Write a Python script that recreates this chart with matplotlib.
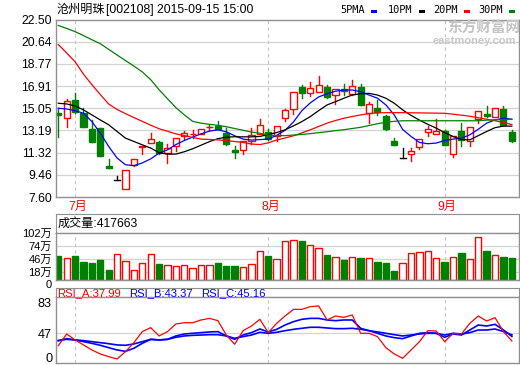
import matplotlib
matplotlib.use('Agg')
import matplotlib.pyplot as plt
from matplotlib.patches import Rectangle

plt.rcParams['font.family'] = ['Liberation Sans', 'Noto Sans CJK SC', 'DejaVu Sans']

# ---------------- data ----------------
stock_name = "沧州明珠"
stock_info = "[002108] 2015-09-15 15:00"
legend_names = ["5PMA", "10PM", "20PM", "30PM"]
month_labels = ["7月", "8月", "9月"]
month_index = [3, 26, 47]

opens = [14.62, 14.21, 15.74, 14.63, 13.29, 13.43, 10.23, 9.06, 8.28, 10.29,
         11.78, 12.13, 12.18, 11.29, 11.90, 12.74, 12.88, 12.88, 13.44, 13.57,
         12.96, 11.51, 11.57, 12.26, 12.88, 13.07, 12.74, 14.21, 14.97, 16.85,
         16.30, 16.44, 16.85, 16.16, 16.64, 16.24, 16.85, 14.68, 15.05, 14.41,
         12.26, 10.87, 11.23, 11.79, 13.07, 12.88, 13.13, 11.21, 13.13, 12.32,
         14.13, 14.55, 14.35, 14.97, 13.05]
highs = [15.05, 15.80, 16.35, 15.05, 14.07, 13.43, 10.81, 9.40, 9.90, 10.80,
         11.86, 13.00, 12.32, 12.04, 12.59, 13.15, 13.24, 13.35, 13.63, 13.99,
         13.38, 11.90, 12.34, 13.43, 14.13, 13.30, 13.60, 14.95, 16.45, 16.99,
         17.27, 17.77, 17.00, 16.70, 17.05, 17.41, 17.10, 15.60, 15.74, 14.50,
         12.54, 11.70, 11.71, 12.46, 13.57, 14.13, 13.20, 12.68, 13.80, 13.51,
         14.85, 15.24, 15.10, 15.24, 13.24]
lows = [12.63, 13.46, 14.63, 13.45, 12.18, 11.01, 10.00, 9.06, 8.28, 10.20,
        11.20, 12.10, 11.25, 10.46, 11.42, 12.49, 12.54, 12.85, 13.24, 13.30,
        12.00, 10.87, 11.23, 12.07, 12.85, 12.40, 12.26, 14.01, 14.57, 15.94,
        16.10, 16.40, 15.90, 15.41, 16.16, 16.20, 15.30, 13.80, 14.49, 13.25,
        11.98, 10.87, 10.59, 11.65, 12.68, 12.85, 11.96, 10.95, 11.84, 11.84,
        13.80, 14.35, 14.28, 13.66, 12.21]
closes = [14.50, 15.68, 14.72, 13.51, 12.23, 11.01, 10.00, 9.06, 9.90, 10.79,
          11.84, 12.46, 11.29, 11.72, 12.59, 12.96, 12.92, 13.29, 13.48, 13.35,
          12.07, 11.34, 12.26, 12.82, 13.66, 12.46, 13.57, 14.91, 16.39, 16.35,
          16.72, 16.99, 16.02, 16.64, 16.47, 16.91, 15.33, 15.41, 14.77, 13.29,
          11.98, 10.87, 11.42, 12.46, 13.29, 13.18, 11.96, 12.68, 12.40, 13.51,
          14.85, 14.41, 15.05, 13.66, 12.34]

ma5 = [15.05, 14.99, 14.85, 14.63, 13.93, 12.96, 11.84, 10.87, 10.31, 10.23,
       10.46, 10.80, 11.28, 11.56, 12.00, 12.34, 12.63, 12.90, 13.13, 13.24,
       13.07, 12.74, 12.46, 12.38, 12.42, 12.46, 12.78, 13.20, 13.90, 14.85,
       15.50, 16.00, 16.27, 16.48, 16.58, 16.58, 16.44, 16.16, 15.89, 15.33,
       14.49, 13.27, 12.68, 12.18, 12.07, 12.13, 12.34, 12.46, 12.54, 12.82,
       13.29, 13.80, 14.07, 14.21, 14.13]
ma10 = [15.47, 15.41, 15.24, 14.91, 14.49, 14.07, 13.66, 13.10, 12.54, 12.26,
        11.98, 11.71, 11.32, 11.20, 11.20, 11.40, 11.65, 11.95, 12.25, 12.50,
        12.62, 12.66, 12.65, 12.65, 12.68, 12.85, 13.01, 13.24, 13.57, 13.93,
        14.35, 14.85, 15.33, 15.60, 15.89, 16.16, 16.27, 16.30, 16.16, 15.89,
        15.47, 14.91, 14.45, 14.05, 13.70, 13.38, 13.00, 12.68, 12.42, 12.40,
        12.75, 13.10, 13.42, 13.55, 13.55]
ma20 = [20.40, 19.69, 18.95, 17.91, 17.03, 16.20, 15.40, 14.95, 14.60, 14.27,
        13.95, 13.63, 13.33, 13.12, 12.90, 12.75, 12.60, 12.46, 12.43, 12.40,
        12.33, 12.26, 12.18, 12.05, 12.00, 12.15, 12.38, 12.55, 12.74, 12.98,
        13.24, 13.52, 13.80, 14.02, 14.21, 14.36, 14.49, 14.60, 14.66, 14.68,
        14.68, 14.68, 14.67, 14.66, 14.65, 14.64, 14.63, 14.55, 14.47, 14.38,
        14.25, 14.13, 14.00, 13.85, 13.68]
ma30 = [22.00, 21.75, 21.48, 21.15, 20.80, 20.47, 19.99, 19.52, 19.05, 18.59,
        18.10, 17.45, 16.60, 15.85, 15.10, 14.50, 13.95, 13.80, 13.70, 13.62,
        13.50, 13.35, 13.20, 13.05, 12.95, 12.80, 12.75, 12.75, 12.80, 12.85,
        12.92, 13.00, 13.08, 13.17, 13.25, 13.35, 13.45, 13.60, 13.75, 13.88,
        13.95, 14.00, 14.00, 14.00, 14.00, 14.00, 14.00, 14.00, 14.00, 14.00,
        14.00, 14.05, 14.08, 14.10, 14.12]

volume_wan = [52.0, 47.6, 52.0, 39.0, 36.8, 43.3, 21.6, 55.6, 41.1, 20.9,
              36.1, 55.6, 34.6, 31.7, 29.6, 31.7, 25.3, 31.7, 31.7, 36.8,
              30.3, 30.3, 28.1, 33.9, 62.8, 52.0, 45.5, 84.4, 86.6, 84.4,
              75.8, 69.3, 54.1, 49.8, 43.3, 49.8, 47.6, 47.6, 39.0, 36.8,
              19.5, 36.8, 58.4, 60.6, 62.8, 47.6, 39.0, 49.8, 58.4, 45.5,
              93.0, 62.8, 54.1, 49.8, 47.6]
volume_last = "417663"

rsi_a = [32.5, 46.2, 39.2, 33.3, 27.4, 22.7, 19.5, 16.8, 25.4, 36.0,
         49.0, 53.7, 43.9, 49.0, 58.0, 59.5, 59.5, 62.7, 64.6, 61.9,
         45.0, 34.1, 50.1, 55.6, 63.5, 47.8, 58.8, 67.4, 75.2, 75.2,
         78.4, 79.2, 62.7, 67.4, 65.8, 68.6, 47.0, 47.0, 43.1, 30.1,
         22.7, 17.6, 27.4, 37.2, 50.1, 49.7, 37.2, 47.0, 46.2, 58.8,
         67.4, 61.5, 65.4, 49.0, 37.99]
rsi_b = [38.4, 40.7, 39.2, 37.2, 35.2, 32.9, 30.1, 27.4, 25.8, 29.4,
         35.2, 39.9, 39.2, 39.9, 43.9, 46.2, 47.0, 47.8, 48.6, 49.0,
         43.9, 39.9, 45.0, 47.8, 52.1, 48.6, 51.7, 56.8, 60.7, 63.5,
         64.6, 64.6, 62.7, 61.9, 62.7, 62.7, 52.9, 50.1, 47.0, 43.9,
         41.9, 40.7, 43.9, 47.0, 47.8, 47.0, 42.3, 46.2, 45.0, 50.9,
         56.8, 55.6, 57.6, 50.9, 43.37]
rsi_c = [38.4, 39.9, 39.2, 38.4, 37.2, 36.0, 34.8, 33.3, 32.9, 34.5,
         37.2, 39.9, 39.2, 39.9, 42.3, 43.9, 44.6, 45.0, 45.4, 45.4,
         43.9, 41.1, 43.1, 45.0, 48.2, 47.0, 48.2, 50.1, 51.7, 52.9,
         54.1, 54.1, 53.3, 52.5, 52.5, 52.9, 51.7, 50.1, 48.6, 47.0,
         45.4, 43.9, 45.0, 46.2, 47.0, 47.0, 45.0, 47.0, 46.2, 47.8,
         50.9, 50.9, 52.1, 49.0, 45.16]

price_ticks = [7.60, 9.46, 11.32, 13.19, 15.05, 16.91, 18.77, 20.64, 22.50]
vol_ticks = [0, 18, 46, 74, 102]
vol_tick_labels = ["0", "18万", "46万", "74万", "102万"]
rsi_ticks = [47, 83]
rsi_tick_labels = ["47", "83"]
rsi_bottom_label = "0"

# ---------------- style ----------------
W, H = 520, 365
RED = '#ff0000'
GREEN = '#008000'
BLUE = '#0000ff'
BORDER = '#909090'
GRID = '#d4d4d4'
DASH = '#c4c4c4'

fig = plt.figure(figsize=(W / 100, H / 100), dpi=100)
fig.patch.set_facecolor('white')


def rect(l, t, r, b):
    return [l / W, 1 - b / H, (r - l) / W, (b - t) / H]


def fx(x):
    return x / W


def fy(y):
    return 1 - y / H


n = len(closes)
xs = list(range(1, n + 1))
XL = (0.726, 55.85)


def style_axes(ax):
    ax.set_xlim(*XL)
    ax.set_xticks([])
    for s in ax.spines.values():
        s.set_color(BORDER)
        s.set_linewidth(1)
    ax.tick_params(axis='y', length=0, pad=3, colors='black')


def vdash(ax, y0, y1):
    for m in month_index:
        ax.plot([m, m], [y0, y1], color=DASH, lw=0.8, ls=(0, (3, 3)), zorder=1)


# ---------------- main price panel ----------------
ax = fig.add_axes(rect(56, 19.5, 519, 197))
style_axes(ax)
ax.set_ylim(7.60, 22.50)
ax.set_yticks(price_ticks)
ax.set_yticklabels([f"{t:.2f}" for t in price_ticks], fontsize=8.8)
for t in price_ticks[1:-1]:
    ax.axhline(t, color=GRID, lw=0.9, zorder=0)
vdash(ax, 7.6, 22.5)

bw = 0.72
for x, o, h, l, c in zip(xs, opens, highs, lows, closes):
    lo, hi = min(o, c), max(o, c)
    if c > o:
        col = RED
        ax.plot([x, x], [l, lo], color=col, lw=1, zorder=2)
        ax.plot([x, x], [hi, h], color=col, lw=1, zorder=2)
        ax.add_patch(Rectangle((x - bw / 2, lo), bw, max(hi - lo, 0.02),
                               facecolor='white', edgecolor=col, lw=1, zorder=2))
    elif c < o:
        col = GREEN
        ax.plot([x, x], [l, h], color=col, lw=1, zorder=2)
        ax.add_patch(Rectangle((x - bw / 2, lo), bw, max(hi - lo, 0.02),
                               facecolor=col, edgecolor=col, lw=1, zorder=2))
    else:
        ax.plot([x, x], [l, h], color='black', lw=1, zorder=2)
        ax.plot([x - bw / 2, x + bw / 2], [o, o], color='black', lw=1, zorder=2)

ax.plot(xs, ma5, color=BLUE, lw=0.9, zorder=3)
ax.plot(xs, ma10, color='black', lw=0.9, zorder=3)
ax.plot(xs, ma20, color=RED, lw=0.9, zorder=3)
ax.plot(xs, ma30, color=GREEN, lw=0.9, zorder=3)

# watermark
fig.text(fx(447), fy(29), "东方财富网", color='#c4c4c4', fontsize=10.5,
         fontweight='bold', va='center', ha='left', zorder=0)
fig.text(fx(433), fy(40.5), "eastmoney.com", color='#c8c8c8', fontsize=8,
         fontweight='bold', va='center', ha='left', zorder=0)

# title
fig.text(fx(57), fy(10), stock_name, fontsize=8.7, va='center', ha='left')
fig.text(fx(106), fy(10), stock_info, fontsize=8.7, va='center', ha='left')

# legend
leg_x = [340, 387.7, 432.7, 478]
leg_colors = [BLUE, 'black', RED, GREEN]
for name, lx, lc in zip(legend_names, leg_x, leg_colors):
    fig.text(fx(lx), fy(10), name, fontsize=7.4, family='DejaVu Sans Mono',
             va='center', ha='left')
    fig.patches.append(Rectangle((fx(lx + 31), fy(12.8)), 6 / W, 2.8 / H,
                                 transform=fig.transFigure, facecolor=lc,
                                 edgecolor='none'))

# month labels
for lab, m in zip(month_labels, month_index):
    px = 58.3 + (m - 1) * 8.4 + 2.5
    fig.text(fx(px), fy(207), lab, color=RED, fontsize=8.7, ha='center', va='center')

# ---------------- volume panel ----------------
axvt = fig.add_axes(rect(56, 214, 519, 232.7))
axvt.set_xticks([]); axvt.set_yticks([])
for s in axvt.spines.values():
    s.set_color(BORDER)
axvt.text(0.004, 0.5, "成交量:" + volume_last, transform=axvt.transAxes,
          fontsize=8.7, va='center', ha='left')

axv = fig.add_axes(rect(56, 232.7, 519, 280))
style_axes(axv)
axv.set_ylim(0, 102)
axv.set_yticks(vol_ticks)
axv.set_yticklabels(vol_tick_labels, fontsize=8.0)
axv.tick_params(axis='y', pad=3)
for t in vol_ticks[1:-1]:
    axv.axhline(t, color=GRID, lw=0.9, zorder=0)
vdash(axv, 0, 102)
# nudge "0" slightly down so it does not touch "18万"
axv.get_yticklabels()[0].set_va('top')
vw = 0.76
for x, o, c, v in zip(xs, opens, closes, volume_wan):
    if c >= o:
        axv.add_patch(Rectangle((x - vw / 2, 0), vw, v, facecolor='white',
                                edgecolor=RED, lw=1, zorder=2))
    else:
        axv.add_patch(Rectangle((x - vw / 2, 0), vw, v, facecolor=GREEN,
                                edgecolor=GREEN, lw=1, zorder=2))

# ---------------- RSI panel ----------------
axrt = fig.add_axes(rect(56, 288, 519, 297.3))
axrt.set_xticks([]); axrt.set_yticks([])
for s in axrt.spines.values():
    s.set_color(BORDER)
rsi_titles = [("RSI_A:%.2f" % rsi_a[-1], RED, 57),
              ("RSI_B:%.2f" % rsi_b[-1], BLUE, 129),
              ("RSI_C:%.2f" % rsi_c[-1], BLUE, 201)]
for txt, col, px in rsi_titles:
    fig.text(fx(px), fy(292.8), txt, color=col, fontsize=8.1, va='center', ha='left')

axr = fig.add_axes(rect(56, 297.3, 519, 363.3))
style_axes(axr)
axr.set_ylim(11.7, 89.4)
axr.set_yticks(rsi_ticks)
axr.set_yticklabels(rsi_tick_labels, fontsize=9.2)
fig.text(fx(53), fy(364.5), rsi_bottom_label, fontsize=9.2, ha='right', va='bottom')
axr.axhline(47, color=GRID, lw=0.9, zorder=0)
vdash(axr, 11.7, 89.4)
axr.plot(xs, rsi_c, color=BLUE, lw=1.2, zorder=3)
axr.plot(xs, rsi_b, color=BLUE, lw=1.2, zorder=3)
axr.plot(xs, rsi_a, color=RED, lw=0.9, zorder=4)

fig.savefig('out.png', dpi=100)
